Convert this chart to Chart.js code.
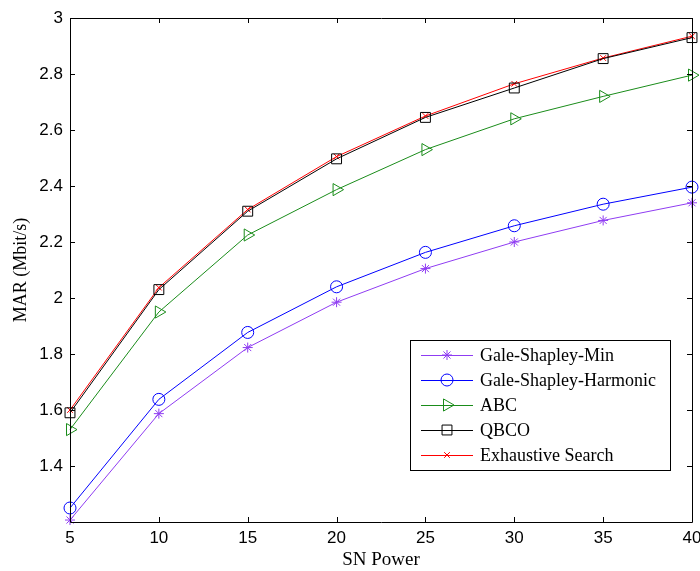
<!DOCTYPE html>
<html>
<head>
<meta charset="utf-8">
<script src="https://cdn.jsdelivr.net/npm/chart.js@4/dist/chart.umd.min.js"></script>
<style>
html,body{margin:0;padding:0;background:#fff;}
#wrap{width:700px;height:571px;}
</style>
</head>
<body>
<div id="wrap"><canvas id="c" width="700" height="571"></canvas></div>
<script>
const snPower = [5, 10, 15, 20, 25, 30, 35, 40];
const galeShapleyMin = [1.207, 1.587, 1.823, 1.985, 2.105, 2.200, 2.277, 2.340];
const galeShapleyHarmonic = [1.250, 1.638, 1.877, 2.040, 2.163, 2.258, 2.335, 2.396];
const abc = [1.530, 1.950, 2.225, 2.387, 2.530, 2.640, 2.720, 2.796];
const qbco = [1.590, 2.030, 2.310, 2.497, 2.645, 2.750, 2.855, 2.930];
const exhaustiveSearch = [1.600, 2.037, 2.316, 2.505, 2.650, 2.765, 2.857, 2.935];
const xTicks = [5, 10, 15, 20, 25, 30, 35, 40];
const yTicks = [1.4, 1.6, 1.8, 2, 2.2, 2.4, 2.6, 2.8, 3];

const seriesNames = ['Gale-Shapley-Min', 'Gale-Shapley-Harmonic', 'ABC', 'QBCO', 'Exhaustive Search'];
const seriesValues = [galeShapleyMin, galeShapleyHarmonic, abc, qbco, exhaustiveSearch];
const seriesColors = ['#8f3cf2', '#0000ff', '#1a8c1a', '#000000', '#ff0000'];
const seriesPoints = ['star', 'circle', 'triangle', 'rect', 'crossRot'];
const seriesRadius = [5, 6, 7, 7, 4];
const seriesRotation = [0, 0, 90, 0, 0];

const datasets = seriesNames.map((name, k) => ({
  label: name,
  data: snPower.map((x, i) => ({x: x, y: seriesValues[k][i]})),
  borderColor: seriesColors[k],
  backgroundColor: 'rgba(0,0,0,0)',
  borderWidth: 1,
  pointStyle: seriesPoints[k],
  pointRadius: seriesRadius[k],
  pointRotation: seriesRotation[k],
  pointBorderColor: seriesColors[k],
  pointBackgroundColor: 'rgba(0,0,0,0)',
  pointBorderWidth: 1,
  tension: 0,
  clip: false
}));

const framePlugin = {
  id: 'frame',
  afterDatasetsDraw(chart) {
    const ctx = chart.ctx;
    const a = chart.chartArea;
    const xs = chart.scales.x, ys = chart.scales.y;
    ctx.save();
    ctx.strokeStyle = '#000';
    ctx.lineWidth = 1;
    ctx.beginPath();
    ctx.rect(Math.round(a.left) + 0.5, Math.round(a.top) + 0.5, Math.round(a.right - a.left), Math.round(a.bottom - a.top));
    ctx.stroke();
    const tl = 5;
    ctx.beginPath();
    xTicks.forEach(v => {
      const px = Math.round(xs.getPixelForValue(v)) + 0.5;
      ctx.moveTo(px, a.bottom); ctx.lineTo(px, a.bottom - tl);
      ctx.moveTo(px, a.top); ctx.lineTo(px, a.top + tl);
    });
    yTicks.forEach(v => {
      const py = Math.round(ys.getPixelForValue(v)) + 0.5;
      ctx.moveTo(a.left, py); ctx.lineTo(a.left + tl, py);
      ctx.moveTo(a.right, py); ctx.lineTo(a.right - tl, py);
    });
    ctx.stroke();

    // legend box
    const lx = 410, ly = 340, lw = 260, lh = 130;
    ctx.fillStyle = '#fff';
    ctx.fillRect(lx, ly, lw, lh);
    ctx.strokeStyle = '#000';
    ctx.strokeRect(lx + 0.5, ly + 0.5, lw, lh);
    ctx.font = '18px "Liberation Serif", "Times New Roman", serif';
    ctx.textBaseline = 'middle';
    ctx.textAlign = 'left';
    seriesNames.forEach((name, k) => {
      const y = ly + 15 + k * 25;
      ctx.strokeStyle = seriesColors[k];
      ctx.beginPath();
      ctx.moveTo(421, y + 0.5); ctx.lineTo(473, y + 0.5);
      ctx.stroke();
      ctx.fillStyle = 'rgba(255,255,255,0)';
      Chart.helpers.drawPoint(ctx, {
        pointStyle: seriesPoints[k],
        radius: seriesRadius[k],
        rotation: seriesRotation[k],
        borderWidth: 1
      }, 447, y);
      ctx.fillStyle = '#000';
      ctx.fillText(name, 480, y + 1);
    });
    ctx.restore();
  }
};

new Chart(document.getElementById('c'), {
  type: 'line',
  data: { datasets: datasets },
  options: {
    responsive: false,
    animation: false,
    devicePixelRatio: 1,
    layout: { padding: { left: 0, right: 7, top: 18, bottom: 0 } },
    plugins: { legend: { display: false }, tooltip: { enabled: false } },
    scales: {
      x: {
        type: 'linear',
        min: 5, max: 40,
        grid: { display: false, drawTicks: false },
        border: { display: false },
        afterBuildTicks(scale) { scale.ticks = xTicks.map(v => ({value: v})); },
        afterFit(scale) { scale.height = 49; scale.paddingLeft = 0; scale.paddingRight = 0; },
        ticks: {
          padding: 6,
          color: '#000',
          maxRotation: 0,
          autoSkip: false,
          font: { family: '"Liberation Sans", Arial, sans-serif', size: 17 }
        },
        title: {
          display: true,
          text: 'SN Power',
          color: '#000',
          padding: { top: 1, bottom: 0 },
          font: { family: '"Liberation Serif", "Times New Roman", serif', size: 19 }
        }
      },
      y: {
        min: 1.2, max: 3,
        grid: { display: false, drawTicks: false },
        border: { display: false },
        afterBuildTicks(scale) { scale.ticks = yTicks.map(v => ({value: v})); },
        afterFit(scale) { scale.width = 70; scale.paddingTop = 0; scale.paddingBottom = 0; },
        ticks: {
          padding: 7,
          color: '#000',
          autoSkip: false,
          font: { family: '"Liberation Sans", Arial, sans-serif', size: 17 },
          callback: v => String(v)
        },
        title: {
          display: true,
          text: 'MAR (Mbit/s)',
          color: '#000',
          padding: { top: 10, bottom: 0 },
          font: { family: '"Liberation Serif", "Times New Roman", serif', size: 18 }
        }
      }
    }
  },
  plugins: [framePlugin]
});
</script>
</body>
</html>
